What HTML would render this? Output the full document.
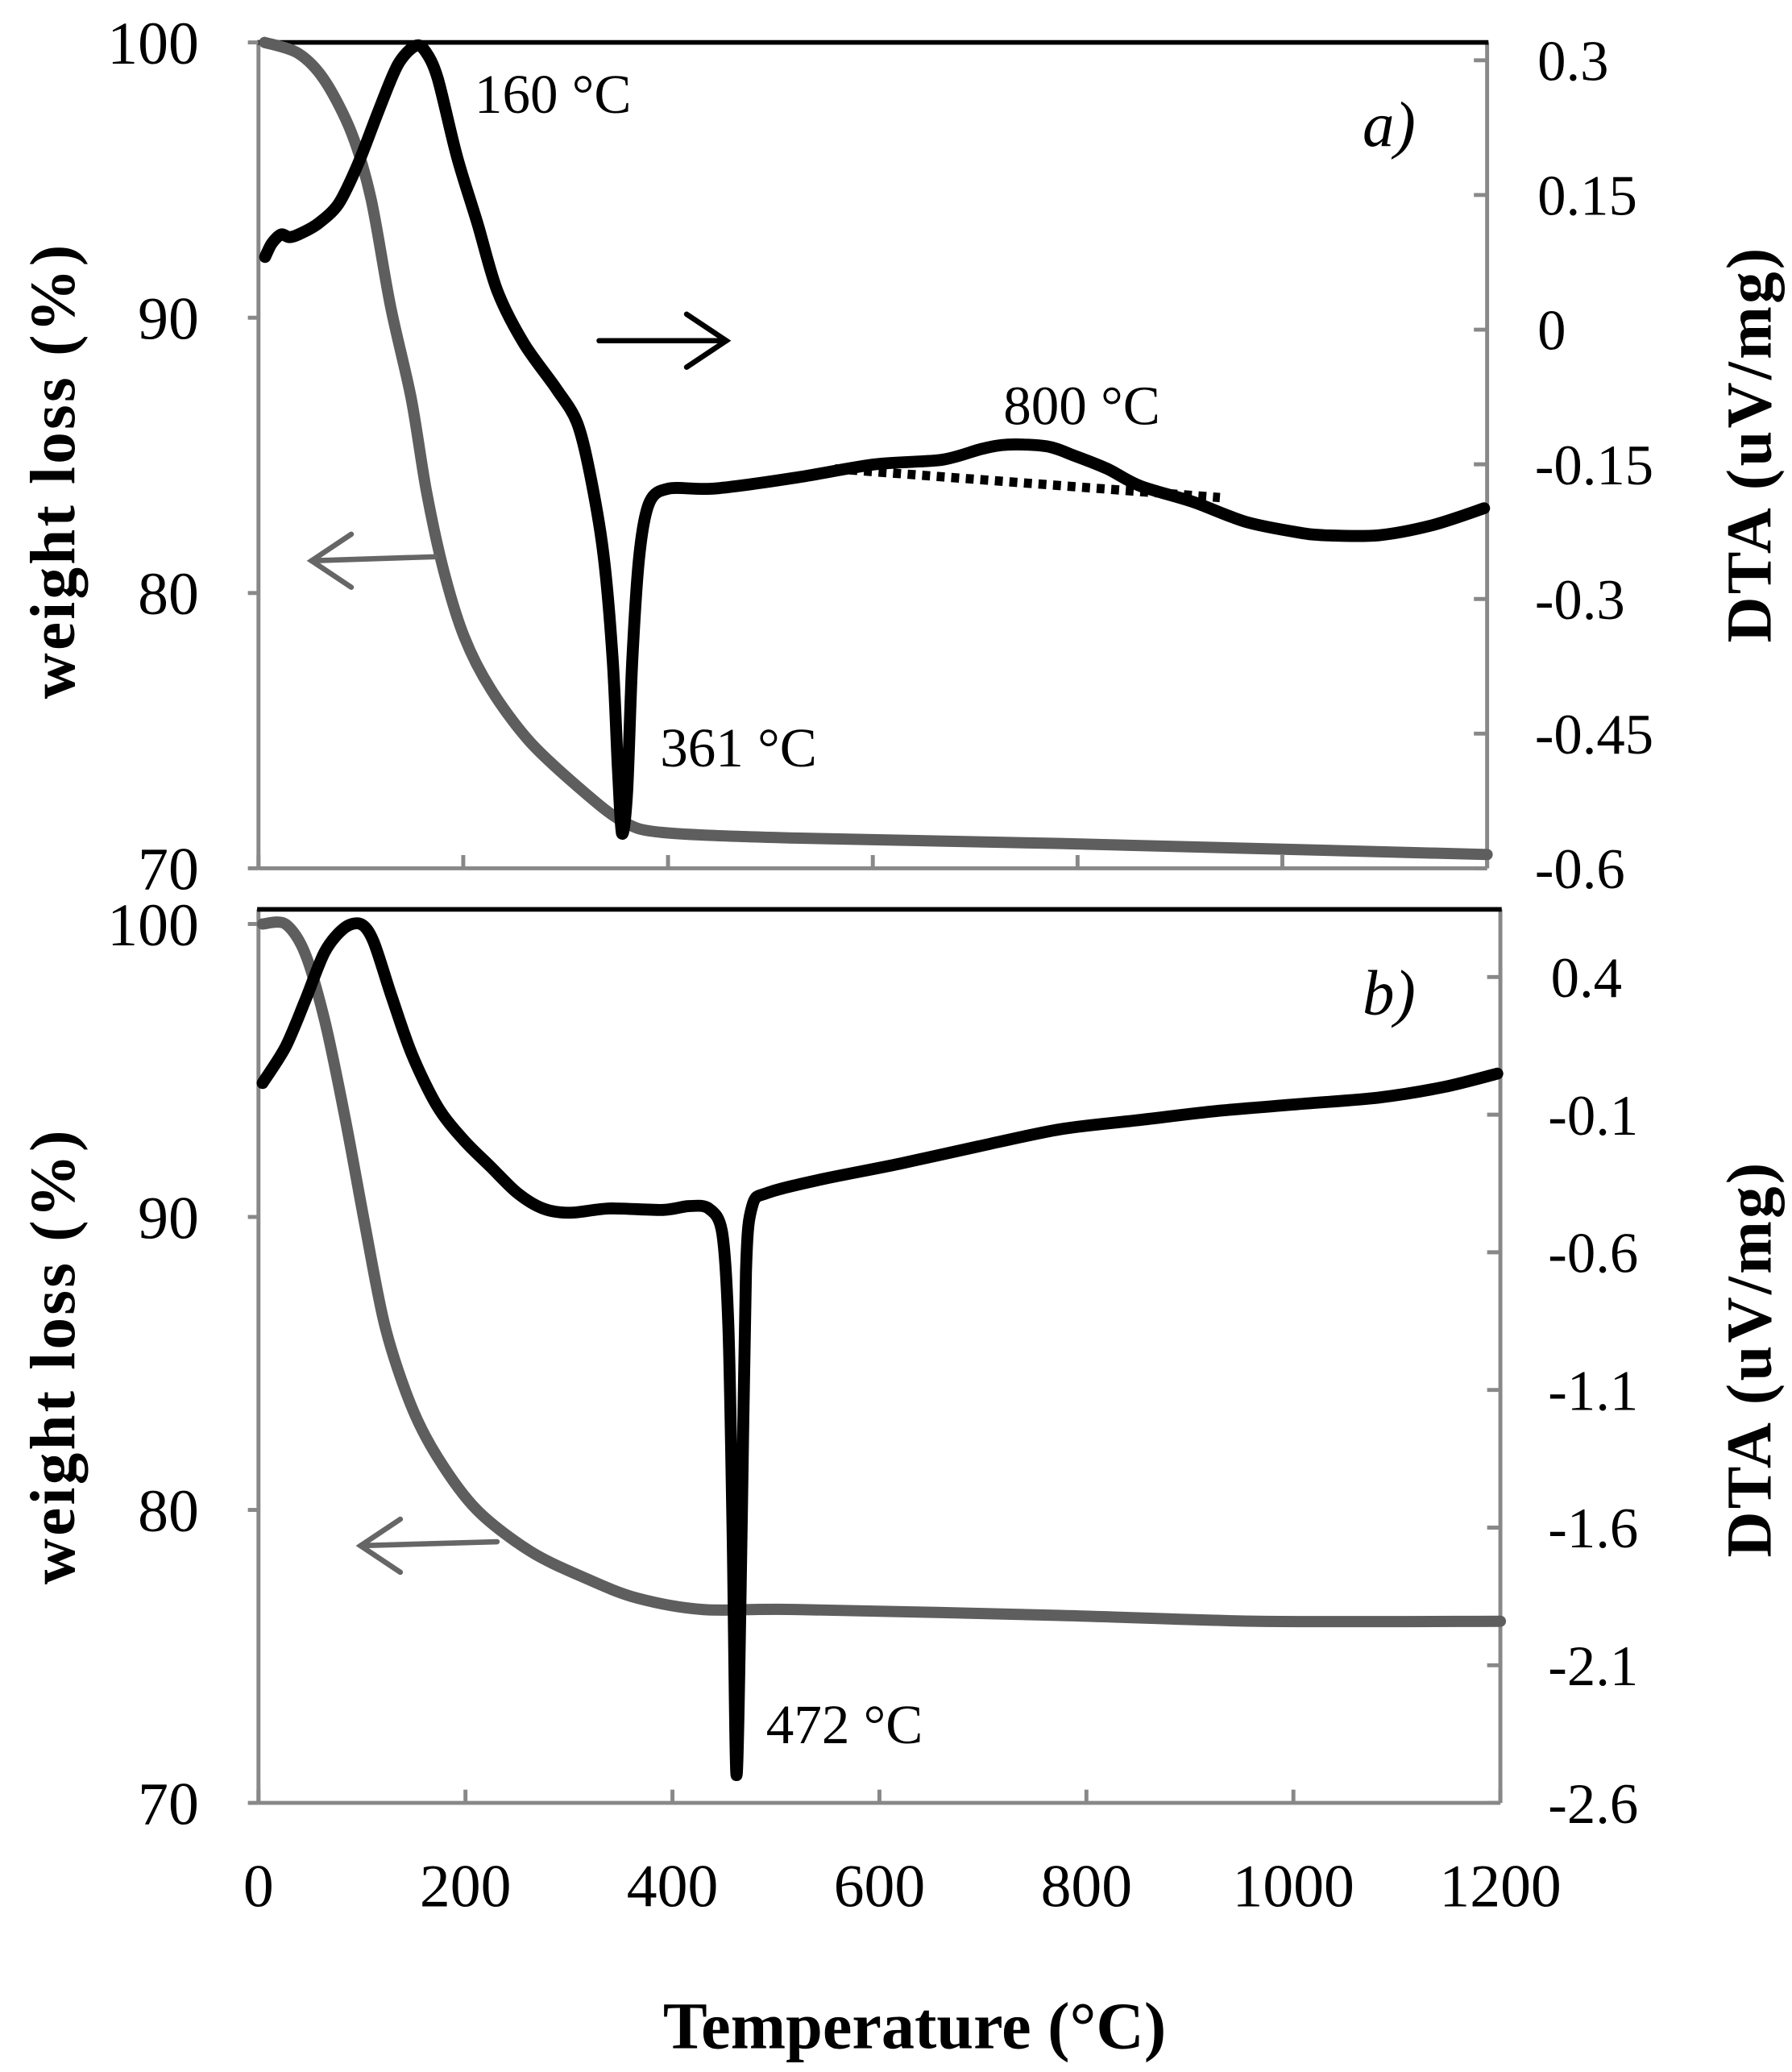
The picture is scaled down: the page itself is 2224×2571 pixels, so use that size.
<!DOCTYPE html>
<html><head><meta charset="utf-8"><style>
html,body{margin:0;padding:0;background:#fff}
svg{display:block}
text{font-family:"Liberation Serif",serif;fill:#000}
</style></head><body>
<svg id="chart" width="2224" height="2571" viewBox="0 0 1352 1563" xmlns="http://www.w3.org/2000/svg">
<g id="g"></g>
</svg>
<script>
// Panel a data
const wA_T=[6,39,65,91,110,129,149,164,181,201,227,265,317,356,395,524,783,1200];
const wA_W=[100,99.6,98.6,96.7,94.3,90.4,87.1,83.7,80.8,78.4,76.5,74.6,72.8,71.7,71.3,71.1,70.9,70.5];
const dA_T=[6.5,13,22,30,39,58,78,97,117,136,153,163,175,194,214,233,259,291,311,324,337,346,351,355,360,365,372,382,401,446,524,602,667,706,732,770,796,829,861,913,964,1016,1042,1094,1146,1197];
const dA_D=[.081,.096,.106,.103,.106,.118,.140,.184,.243,.295,.316,.310,.280,.192,.118,.044,-.015,-.066,-.103,-.162,-.251,-.369,-.487,-.561,-.516,-.369,-.251,-.192,-.177,-.177,-.165,-.150,-.145,-.133,-.128,-.130,-.140,-.155,-.174,-.192,-.214,-.226,-.229,-.229,-.218,-.199];
const baseA_T=[563,939];
const baseA_D=[-.155,-.187];
// Panel b data
const wB_T=[4,26,45,64,83,102,122,147,173,211,262,314,365,429,519,775,967,1200];
const wB_W=[100,100,99.0,96.7,93.5,89.9,86.3,83.6,81.8,80.0,78.6,77.7,77.0,76.6,76.6,76.4,76.2,76.2];
const dB_T=[4,26,45,64,83,99,111,128,148,173,198,224,250,275,301,339,391,416,435,448,454,458,462,467,471,477,492,543,620,696,775,852,928,1005,1082,1146,1197];
const dB_D=[0.015,0.145,0.313,0.491,0.578,0.592,0.530,0.337,0.121,-0.071,-0.191,-0.288,-0.384,-0.441,-0.456,-0.441,-0.446,-0.432,-0.441,-0.528,-0.865,-1.586,-2.499,-1.586,-0.672,-0.432,-0.384,-0.336,-0.278,-0.215,-0.153,-0.119,-0.086,-0.062,-0.038,0.001,0.049];
const xTicks=[0,200,400,600,800,1000,1200];
const wTicks=[70,80,90,100];
const dTicksA=[0.3,0.15,0,-0.15,-0.3,-0.45,-0.6];
const dTicksALabels=["0.3","0.15","0","-0.15","-0.3","-0.45","-0.6"];
const dTicksB=[0.4,-0.1,-0.6,-1.1,-1.6,-2.1,-2.6];
const dTicksBLabels=["0.4","-0.1","-0.6","-1.1","-1.6","-2.1","-2.6"];

const NS="http://www.w3.org/2000/svg";
const G=document.getElementById('g');
function mk(tag,attrs,parent){const e=document.createElementNS(NS,tag);for(const k in attrs)e.setAttribute(k,attrs[k]);(parent||G).appendChild(e);return e;}
function txt(s,attrs){const e=mk('text',attrs);e.textContent=s;return e;}
function smooth(pts){
 let d='M'+pts[0][0].toFixed(1)+','+pts[0][1].toFixed(1);
 for(let i=0;i<pts.length-1;i++){
  const p0=pts[Math.max(0,i-1)],p1=pts[i],p2=pts[i+1],p3=pts[Math.min(pts.length-1,i+2)];
  const k=0.15;
  const c1=[p1[0]+(p2[0]-p0[0])*k,p1[1]+(p2[1]-p0[1])*k];
  const c2=[p2[0]-(p3[0]-p1[0])*k,p2[1]-(p3[1]-p1[1])*k];
  d+=' C'+c1[0].toFixed(1)+','+c1[1].toFixed(1)+' '+c2[0].toFixed(1)+','+c2[1].toFixed(1)+' '+p2[0].toFixed(1)+','+p2[1].toFixed(1);
 }
 return d;
}

const panels=[
 {id:'a',L:195,R:1122,T:32,B:655,x1200:1122,d0:0.3,d1:-0.6,dTop:45.5,dBot:655,wT:wA_T,wW:wA_W,dT:dA_T,dD:dA_D,dt:dTicksA,dl:dTicksALabels},
 {id:'b',L:195,R:1132,T:686,B:1360,x1200:1132,d0:0.4,d1:-2.6,dTop:737,dBot:1360,wT:wB_T,wW:wB_W,dT:dB_T,dD:dB_D,dt:dTicksB,dl:dTicksBLabels}
];
const wTop={a:32,b:697};
panels.forEach(p=>{
 const xs=t=>p.L+(t/1200)*(p.x1200-p.L);
 const wy=w=>p.B-(w-70)/30*(p.B-wTop[p.id]);
 const dy=d=>p.dTop+(p.d0-d)/(p.d0-p.d1)*(p.dBot-p.dTop);
 const g=mk('g',{});
 
 
 let e=mk('line',{x1:p.L,y1:p.T,x2:p.L,y2:p.B,stroke:'#888','stroke-width':3},g);
 
 e=mk('line',{x1:p.L,y1:p.B,x2:p.R,y2:p.B,stroke:'#888','stroke-width':3},g);
 
 e=mk('line',{x1:p.R,y1:p.T,x2:p.R,y2:p.B,stroke:'#888','stroke-width':3},g);
 
 e=mk('line',{x1:p.L-1,y1:p.T,x2:p.R+1,y2:p.T,stroke:'#000','stroke-width':3.5},g);
 
 xTicks.forEach(t=>{const l=mk('line',{x1:xs(t),y1:p.B,x2:xs(t),y2:p.B-10,stroke:'#888','stroke-width':3},g);
  });
 wTicks.forEach(w=>{const l=mk('line',{x1:p.L,y1:wy(w),x2:p.L-8,y2:wy(w),stroke:'#888','stroke-width':3},g);
  
  const tt=txt(String(w),{x:150,y:wy(w)+16,'font-size':46,'text-anchor':'end'});
  });
 p.dt.forEach((d,i)=>{const l=mk('line',{x1:p.R,y1:dy(d),x2:p.R-10,y2:dy(d),stroke:'#888','stroke-width':3},g);
  
  const tt=txt(p.dl[i],{x:p.R+(p.dl[i][0]=='-'?36:38),y:dy(d)+15,'font-size':43});
  });
 let pts=p.wT.map((t,i)=>[xs(t),wy(p.wW[i])]);
 e=mk('path',{d:smooth(pts),fill:'none',stroke:'#5e5e5e','stroke-width':8.5,'stroke-linejoin':'round','stroke-linecap':'round'},g);
 
 pts=p.dT.map((t,i)=>[xs(t),dy(p.dD[i])]);
 e=mk('path',{d:smooth(pts),fill:'none',stroke:'#000','stroke-width':9,'stroke-linejoin':'round','stroke-linecap':'round'},g);
 
 if(p.id==='a'){
  e=mk('line',{x1:xs(baseA_T[0]),y1:dy(baseA_D[0]),x2:xs(baseA_T[1]),y2:dy(baseA_D[1]),stroke:'#000','stroke-width':7,'stroke-dasharray':'6,5'},g);
  
 }
});
function arrow(x1,y1,x2,y2,col,name){
 const g=mk('g',{stroke:col,'stroke-width':4,fill:'none','stroke-linecap':'round'});
 
 mk('line',{x1:x1,y1:y1,x2:x2,y2:y2},g);
 const dir=x2>x1?-1:1;
 mk('polyline',{points:(x2+dir*30)+','+(y2-20)+' '+x2+','+y2+' '+(x2+dir*30)+','+(y2+20)},g);
}
arrow(452,257,548,257,'#000','dta-axis-arrow-a');
arrow(328,420,235,423,'#666','weight-axis-arrow-a');
arrow(375,1163,272,1166,'#666','weight-axis-arrow-b');
const ann=[["160 °C",358,85,'peak-label-160'],["800 °C",757,320,'peak-label-800'],["361 °C",498,578,'peak-label-361'],["472 °C",578,1315,'peak-label-472']];
ann.forEach(a=>{const t=txt(a[0],{x:a[1],y:a[2],'font-size':42});
 });
let t=txt("a)",{x:1028,y:110,'font-size':48,'font-style':'italic'});

t=txt("b)",{x:1028,y:765,'font-size':48,'font-style':'italic'});

const xsB=v=>195+(v/1200)*(1132-195);
xTicks.forEach(v=>{const l=txt(String(v),{x:xsB(v),y:1438,'font-size':46,'text-anchor':'middle'});
 });
t=txt("Temperature (°C)",{x:690,y:1545,'font-size':50,'font-weight':'bold','text-anchor':'middle'});

[[355,'a'],[1023,'b']].forEach(a=>{
 let l=txt("weight loss (%)",{x:0,y:0,'font-size':48,'font-weight':'bold','letter-spacing':2,'text-anchor':'middle',transform:'translate(56,'+a[0]+') rotate(-90)'});
 
 l=txt("DTA (uV/mg)",{x:0,y:0,'font-size':48,'font-weight':'bold','letter-spacing':2,'text-anchor':'middle',transform:'translate(1336,'+(a[1]=='a'?335:1025)+') rotate(-90)'});
 
});
</script>
</body></html>
